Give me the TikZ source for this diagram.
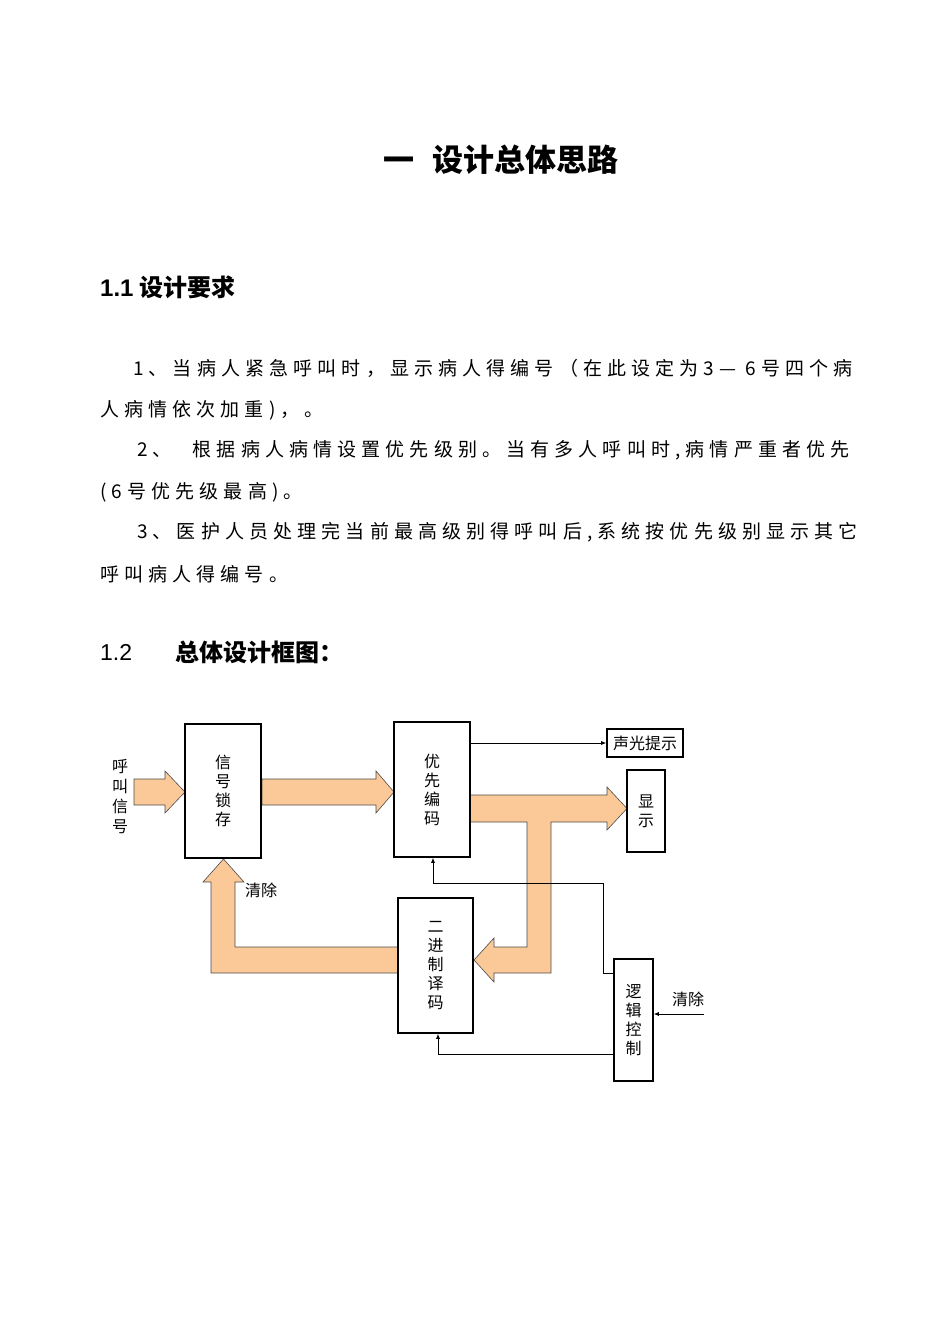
\documentclass[tikz,border=0pt]{standalone}
\usepackage{fontspec}
\setmainfont{Noto Sans CJK SC}
\newfontfamily\lat{Liberation Sans}
\newfontfamily\cjkls[LetterSpace=27]{Noto Sans CJK SC}
\usetikzlibrary{arrows.meta,calc}
\begin{document}
\begin{tikzpicture}[x=1pt,y=-1pt,
  box/.style={draw,line width=1.6pt,inner sep=0pt,align=center,font=\fontsize{16}{19}\selectfont},
  thinarrow/.style={line width=0.7pt,-{Latex[length=5pt,width=4pt]}},
  fat/.style={fill={rgb,255:red,251;green,200;blue,152},draw=black!70,line width=0.6pt},
  bodyline/.style={anchor=west,inner sep=0pt,font=\cjkls\fontsize{19}{21}\selectfont}]
\useasboundingbox[fill=white] (0,0) rectangle (950,1342);
% headings
\node[font=\bfseries\fontsize{31}{34}\selectfont] (title) at (501,160) {一\hspace{0.6em}设计总体思路};
\node[anchor=west,inner sep=0pt,font=\bfseries\fontsize{24}{27}\selectfont] (h11) at (100,287) {{\lat\bfseries 1.1} 设计要求};
\node[bodyline] (p1) at (133,368) {1、当病人紧急呼叫时，显示病人得编号（在此设定为3— 6号四个病};
\node[bodyline] (p2) at (100,410) {人病情依次加重)，。};
\node[bodyline] (p3) at (137,450) {2、\hspace{1.1em}根据病人病情设置优先级别。当有多人呼叫时,病情严重者优先};
\node[bodyline] (p4) at (100,492) {(6号优先级最高)。};
\node[bodyline] (p5) at (137,532) {3、医护人员处理完当前最高级别得呼叫后,系统按优先级别显示其它};
\node[bodyline] (p6) at (100,574) {呼叫病人得编号。};
\node[anchor=west,inner sep=0pt,font=\lat\fontsize{23}{26}\selectfont] (h12) at (100,652) {1.2};
\node[anchor=west,inner sep=0pt,font=\bfseries\fontsize{24}{27}\selectfont] (h12b) at (175,652) {总体设计框图：};
% fat arrows
\path[fat] (134,779) -- (165,779) -- (165,771) -- (185,792) -- (165,813) -- (165,805) -- (134,805) -- cycle;
\path[fat] (262,779) -- (376,779) -- (376,771) -- (394,792) -- (376,813) -- (376,805) -- (262,805) -- cycle;
\path[fat] (470,795) -- (607,795) -- (607,787) -- (627,808.5) -- (607,830) -- (607,822) -- (551,822) -- (551,973)
  -- (494,973) -- (494,982) -- (474,960) -- (494,938) -- (494,947) -- (527,947) -- (527,822) -- (470,822) -- cycle;
\path[fat] (398,947) -- (235,947) -- (235,882) -- (244,882) -- (223.5,859) -- (203,882) -- (211,882) -- (211,973) -- (398,973) -- cycle;
% boxes
\node[box,minimum width=76pt,minimum height=134pt] (xh) at (223,791) {信\\号\\锁\\存};
\node[box,minimum width=76pt,minimum height=135pt] (yx) at (432,789.5) {优\\先\\编\\码};
\node[box,minimum width=76pt,minimum height=28pt] (sg) at (645,743) {声光提示};
\node[box,minimum width=38pt,minimum height=82pt] (xs) at (646,811) {显\\示};
\node[box,minimum width=75pt,minimum height=135pt] (ej) at (435.5,965.5) {二\\进\\制\\译\\码};
\node[box,minimum width=39pt,minimum height=122pt] (lj) at (633.5,1020) {逻\\辑\\控\\制};
% labels
\node[align=center,inner sep=0pt,font=\fontsize{16}{20}\selectfont] (hj) at (120,797) {呼\\叫\\信\\号};
\node[inner sep=0pt,font=\fontsize{16}{18}\selectfont] (qc1) at (261,890) {清除};
\node[inner sep=0pt,font=\fontsize{16}{18}\selectfont] (qc2) at (688,999) {清除};
% thin connectors
\draw[thinarrow] (yx.east |- sg.west) -- (sg.west);
\draw[thinarrow] (lj.west |- 0,973) -- (603,973) -- (603,883) -- (433,883) -- (yx.south -| 433,0);
\draw[thinarrow] (lj.west |- 0,1054) -- (438,1054) -- (ej.south -| 438,0);
\coordinate (cin) at (704,1014);
\draw[thinarrow] (cin) -- (lj.east |- cin);
\end{tikzpicture}
\end{document}
